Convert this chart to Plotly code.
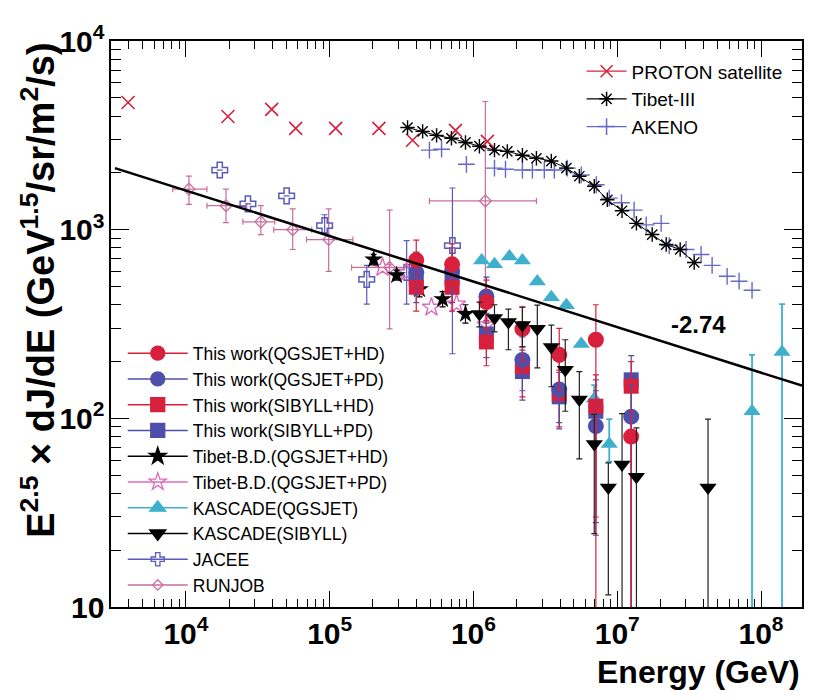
import numpy as np
import plotly.graph_objects as go

# ---------------- data ----------------
proton_E = [3.96e3, 1.96e4, 3.95e4, 5.8e4, 1.1e5, 2.2e5, 3.77e5, 7.5e5, 1.25e6]
proton_J = [4720, 3980, 4340, 3440, 3440, 3440, 2980, 3360, 2940]

tibet3_E = [3.48e5, 4.43e5, 5.54e5, 7.03e5, 8.8e5, 1.10e6, 1.40e6, 1.72e6, 2.19e6, 2.74e6,
            3.48e6, 4.43e6, 5.45e6, 6.92e6, 8.53e6, 1.08e7, 1.36e7, 1.75e7, 2.19e7, 2.74e7, 3.43e7]
tibet3_J = [3480, 3320, 3160, 3050, 2900, 2770, 2640, 2600, 2480, 2390,
            2310, 2120, 1920, 1700, 1440, 1260, 1080, 942, 834, 785, 670]

akeno_E = [4.94e5, 6.0e5, 8.93e5, 1.40e6, 1.67e6, 2.19e6, 2.57e6, 3.11e6, 3.65e6, 4.5e6,
           5.62e6, 7.15e6, 8.8e6, 1.07e7, 1.31e7, 1.59e7, 2.02e7, 2.30e7, 3.01e7, 3.83e7,
           4.57e7, 5.81e7, 7.04e7, 8.66e7]
akeno_J = [2640, 2670, 2220, 2120, 2090, 2070, 2070, 2070, 2070, 2120,
           1950, 1730, 1470, 1390, 1270, 1060, 1080, 824, 785, 739,
           647, 566, 533, 477]

jacee_E = [1.72e4, 2.70e4, 5.02e4, 9.22e4, 1.81e5, 3.43e5, 7.14e5]
jacee_J = [2070, 1370, 1510, 1050, 545, 594, 824]
jacee_hi = [2070, 1370, 1510, 1200, 647, 875, 1663]
jacee_lo = [2070, 1370, 1510, 964, 403, 403, 220]

runjob_E = [1.05e4, 1.90e4, 3.32e4, 5.53e4, 9.84e4, 2.61e5, 1.21e6]
runjob_J = [1640, 1340, 1100, 1000, 886, 631, 1420]
runjob_Elo = [8.1e3, 1.40e4, 2.49e4, 4.08e4, 6.9e4, 1.42e5, 4.94e5]
runjob_Ehi = [1.40e4, 2.65e4, 4.15e4, 7.5e4, 1.45e5, 4.2e5, 2.74e6]
runjob_hi = [1920, 1640, 1340, 1290, 1290, 1270, 4780]
runjob_lo = [1360, 1090, 942, 785, 601, 298, 324]

tbd_hd_E = [2.02e5, 2.92e5, 4.22e5, 6.1e5, 8.8e5]
tbd_hd_J = [695, 573, 483, 428, 357]
tbd_hd_hi = [740, 610, 530, 470, 400]
tbd_hd_lo = [650, 540, 440, 390, 320]

tbd_pd_E = [2.33e5, 3.43e5, 5.1e5, 7.62e5, 1.23e6]
tbd_pd_J = [631, 594, 388, 403, 312]

kq_E = [1.14e6, 1.40e6, 1.78e6, 2.19e6, 2.78e6, 3.48e6, 4.43e6, 5.62e6, 6.92e6, 8.8e6, 8.66e7, 1.4e8]
kq_J = [687, 655, 721, 687, 532, 438, 398, 248, 127, 73, 109, 225]
kq_hi = [687, 655, 721, 687, 532, 438, 398, 248, 150, 99, 217, 403]
kq_lo = [687, 655, 721, 687, 532, 438, 398, 248, 112, 59, 3, 3]

ks_E = [1.10e6, 1.40e6, 1.75e6, 2.19e6, 2.78e6, 3.48e6, 4.35e6, 5.45e6, 6.92e6, 8.67e6, 1.08e7, 1.36e7, 4.28e7]
ks_J = [357, 340, 324, 312, 298, 239, 181, 126, 73, 43, 57, 49, 43]
ks_hi = [413, 400, 379, 388, 398, 312, 261, 177, 105, 58, 106, 89, 99]
ks_lo = [305, 287, 231, 239, 185, 147, 109, 61, 24.5, 11.6, 3, 3, 3]

tw_E = [4.0e5, 7.1e5, 1.23e6, 2.19e6, 3.95e6, 7.1e6, 1.25e7]
tw_qh_J = [690, 655, 413, 298, 217, 261, 80]
tw_qh_hi = [880, 840, 540, 390, 300, 400, 110]
tw_qh_lo = [520, 500, 300, 200, 140, 3, 3]
tw_qp_J = [594, 608, 443, 204, 142, 91, 102]
tw_qp_hi = [760, 800, 560, 270, 200, 140, 150]
tw_qp_lo = [450, 460, 320, 140, 95, 24, 3]
tw_sh_J = [495, 495, 254, 188, 135, 116, 148]
tw_sh_hi = [640, 640, 330, 240, 180, 170, 200]
tw_sh_lo = [370, 370, 190, 130, 90, 30, 3]
tw_sp_J = [552, 552, 280, 177, 130, 109, 160]
tw_sp_hi = [700, 700, 360, 230, 175, 160, 215]
tw_sp_lo = [410, 410, 210, 125, 88, 28, 3]

fit_E = [3.21e3, 1.93e8]
fit_J = [2120, 149]
fit_label = "-2.74"
fit_label_E = 3.7e7
fit_label_J = 316

# ---------------- styles ----------------
RED = "#d8203c"
BLUE = "#4f4fab"
CYAN = "#3fb0cc"
PINK_R = "#c86e9e"
PINK_S = "#dc6cbc"
JBLUE = "#5a5ab8"
ABLUE = "#6868c4"
BLACK = "black"


def err_y(J, hi, lo, color, width=3, thick=1.2):
    return dict(type="data", symmetric=False,
                array=[h - j for h, j in zip(hi, J)],
                arrayminus=[j - l for j, l in zip(J, lo)],
                color=color, thickness=thick, width=width)


fig = go.Figure()

# RUNJOB
fig.add_trace(go.Scatter(
    x=runjob_E, y=runjob_J, mode="markers", showlegend=False,
    marker=dict(symbol="diamond-open", size=9, color=PINK_R, line=dict(width=1.3, color=PINK_R)),
    error_y=err_y(runjob_J, runjob_hi, runjob_lo, PINK_R),
    error_x=dict(type="data", symmetric=False,
                 array=[h - e for h, e in zip(runjob_Ehi, runjob_E)],
                 arrayminus=[e - l for e, l in zip(runjob_E, runjob_Elo)],
                 color=PINK_R, thickness=1.2, width=3)))

# JACEE
fig.add_trace(go.Scatter(
    x=jacee_E, y=jacee_J, mode="markers", showlegend=False,
    marker=dict(symbol="cross-open", size=13, color=JBLUE, line=dict(width=1.5, color=JBLUE)),
    error_y=err_y(jacee_J, jacee_hi, jacee_lo, JBLUE)))

# PROTON satellite
fig.add_trace(go.Scatter(
    x=proton_E, y=proton_J, mode="markers", showlegend=False,
    marker=dict(symbol="x-thin-open", size=13, color=RED, line=dict(width=1.6, color=RED))))

# AKENO
fig.add_trace(go.Scatter(
    x=akeno_E, y=akeno_J, mode="markers", showlegend=False,
    marker=dict(symbol="cross-thin-open", size=12, color=ABLUE, line=dict(width=1.4, color=ABLUE))))

# Tibet-III
fig.add_trace(go.Scatter(
    x=tibet3_E, y=tibet3_J, mode="lines+markers", showlegend=False,
    line=dict(color=BLACK, width=1),
    marker=dict(symbol="asterisk-open", size=12, color=BLACK, line=dict(width=1.4, color=BLACK))))

# KASCADE QGSJET
fig.add_trace(go.Scatter(
    x=kq_E, y=kq_J, mode="markers", showlegend=False,
    marker=dict(symbol="triangle-up", size=15, color=CYAN),
    error_y=err_y(kq_J, kq_hi, kq_lo, CYAN, thick=1.8)))

# Tibet-B.D. PD
fig.add_trace(go.Scatter(
    x=tbd_pd_E, y=tbd_pd_J, mode="markers", showlegend=False,
    marker=dict(symbol="star-open", size=14, color=PINK_S, line=dict(width=1.4, color=PINK_S))))

# Tibet-B.D. HD
fig.add_trace(go.Scatter(
    x=tbd_hd_E, y=tbd_hd_J, mode="markers", showlegend=False,
    marker=dict(symbol="star", size=14, color=BLACK),
    error_y=err_y(tbd_hd_J, tbd_hd_hi, tbd_hd_lo, BLACK)))

# This work
fig.add_trace(go.Scatter(
    x=tw_E, y=tw_sp_J, mode="markers", showlegend=False,
    marker=dict(symbol="square", size=15, color=BLUE),
    error_y=err_y(tw_sp_J, tw_sp_hi, tw_sp_lo, BLUE)))
fig.add_trace(go.Scatter(
    x=tw_E, y=tw_sh_J, mode="markers", showlegend=False,
    marker=dict(symbol="square", size=15, color=RED),
    error_y=err_y(tw_sh_J, tw_sh_hi, tw_sh_lo, RED)))
fig.add_trace(go.Scatter(
    x=tw_E, y=tw_qp_J, mode="markers", showlegend=False,
    marker=dict(symbol="circle", size=16, color=BLUE),
    error_y=err_y(tw_qp_J, tw_qp_hi, tw_qp_lo, BLUE)))
fig.add_trace(go.Scatter(
    x=tw_E, y=tw_qh_J, mode="markers", showlegend=False,
    marker=dict(symbol="circle", size=16, color=RED),
    error_y=err_y(tw_qh_J, tw_qh_hi, tw_qh_lo, RED)))

# fit line -2.74
fig.add_trace(go.Scatter(x=fit_E, y=fit_J, mode="lines", showlegend=False,
                         line=dict(color=BLACK, width=2.5)))

# KASCADE SIBYLL
fig.add_trace(go.Scatter(
    x=ks_E, y=ks_J, mode="markers", showlegend=False,
    marker=dict(symbol="triangle-down", size=15, color=BLACK),
    error_y=err_y(ks_J, ks_hi, ks_lo, "#222222")))

# ---------------- legend entries ----------------
lower_legend = [
    ("This work(QGSJET+HD)", "circle", RED, RED, 14),
    ("This work(QGSJET+PD)", "circle", BLUE, BLUE, 14),
    ("This work(SIBYLL+HD)", "square", RED, RED, 14),
    ("This work(SIBYLL+PD)", "square", BLUE, BLUE, 14),
    ("Tibet-B.D.(QGSJET+HD)", "star", BLACK, BLACK, 13),
    ("Tibet-B.D.(QGSJET+PD)", "star-open", PINK_S, PINK_S, 13),
    ("KASCADE(QGSJET)", "triangle-up", CYAN, CYAN, 14),
    ("KASCADE(SIBYLL)", "triangle-down", BLACK, BLACK, 14),
    ("JACEE", "cross-open", JBLUE, JBLUE, 11),
    ("RUNJOB", "diamond-open", PINK_R, PINK_R, 8),
]
for name, sym, mc, lc, sz in lower_legend:
    fig.add_trace(go.Scatter(
        x=[None], y=[None], mode="lines+markers", name=name, legend="legend",
        line=dict(color=lc, width=1.5),
        marker=dict(symbol=sym, size=sz, color=mc, line=dict(width=1.3, color=mc))))

upper_legend = [
    ("PROTON satellite", "x-thin-open", RED),
    ("Tibet-III", "asterisk-open", BLACK),
    ("AKENO", "cross-thin-open", ABLUE),
]
for name, sym, c in upper_legend:
    fig.add_trace(go.Scatter(
        x=[None], y=[None], mode="lines+markers", name=name, legend="legend2",
        line=dict(color=c, width=1.3),
        marker=dict(symbol=sym, size=12, color=c, line=dict(width=1.5, color=c))))

axis_common = dict(
    type="log", dtick=1, exponentformat="power", showexponent="all",
    ticks="inside", tickwidth=1.3, tickcolor="black",
    minor=dict(ticks="inside", dtick="D1", tickwidth=1, tickcolor="black", showgrid=False),
    showline=True, linecolor="black", linewidth=1.5, mirror="ticks",
    showgrid=False, zeroline=False,
    tickfont=dict(size=24, color="black", weight="bold"),
)

fig.update_layout(
    width=808, height=692,
    margin=dict(l=103, r=13, t=29, b=93),
    paper_bgcolor="white", plot_bgcolor="white",
    font=dict(family="Liberation Sans, Arial, sans-serif", color="black"),
    xaxis=dict(axis_common, range=[3.479, 8.285], ticklen=16,
               minor=dict(axis_common["minor"], ticklen=8)),
    yaxis=dict(axis_common, range=[1, 4], ticklen=18,
               minor=dict(axis_common["minor"], ticklen=10)),
    legend=dict(x=0.017, y=0.48, xanchor="left", yanchor="top",
                bgcolor="rgba(0,0,0,0)", borderwidth=0, itemwidth=60,
                font=dict(size=17.5, color="black")),
    legend2=dict(x=0.681, y=0.98, xanchor="left", yanchor="top",
                 bgcolor="rgba(0,0,0,0)", borderwidth=0, itemwidth=40,
                 font=dict(size=19, color="black")),
    annotations=[
        dict(x=np.log10(fit_label_E), y=np.log10(fit_label_J), xref="x", yref="y",
             text="<b>" + fit_label + "</b>", showarrow=False,
             font=dict(size=24, color="black")),
        dict(x=1.0, y=-0.114, xref="paper", yref="paper", xanchor="right", yanchor="middle",
             text="<b>Energy (GeV)</b>", showarrow=False, font=dict(size=32, color="black")),
        dict(x=-0.106, y=0.56, xref="paper", yref="paper", xanchor="center", yanchor="middle",
             textangle=-90, showarrow=False,
             text="<b>E<sup>2.5</sup> × dJ/dE (GeV<sup>1.5</sup>/sr/m<sup>2</sup>/s)</b>",
             font=dict(size=38, color="black")),
    ],
)

fig.write_html("out.html")
